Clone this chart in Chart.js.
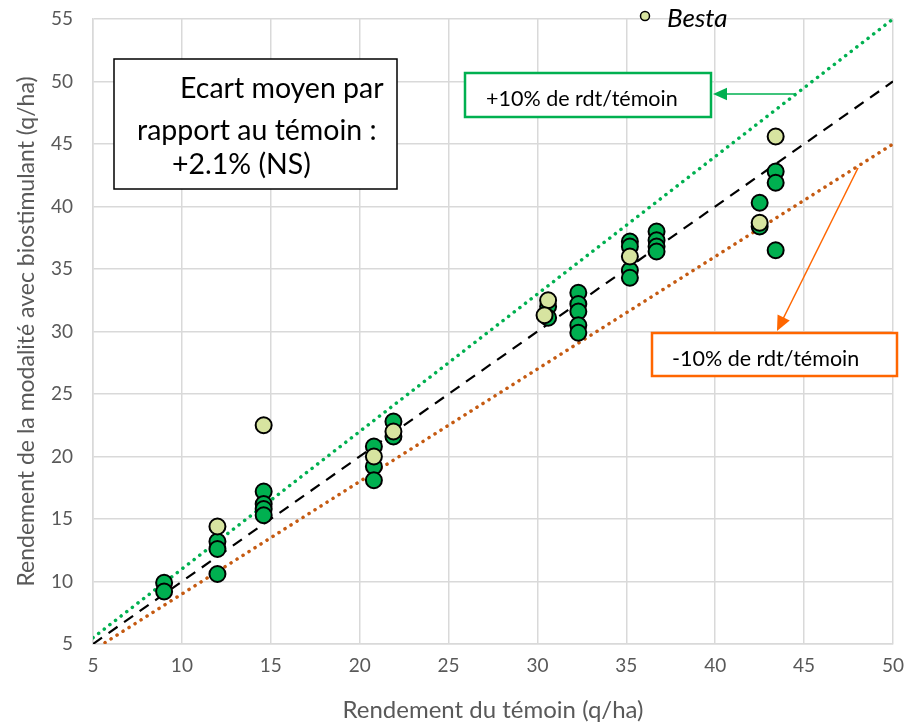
<!DOCTYPE html>
<html>
<head>
<meta charset="utf-8">
<script src="https://cdn.jsdelivr.net/npm/chart.js@4.4.1/dist/chart.umd.min.js"></script>
<style>
  html, body { margin: 0; padding: 0; background: #fff; }
  #wrap { width: 906px; height: 725px; }
</style>
</head>
<body>
<div id="wrap"><canvas id="rdtChart" width="906" height="725"></canvas></div>
<script>
// yields (q/ha): témoin on x, biostimulant on y
const autresX = [9.0, 9.0, 12.0, 12.0, 12.0, 14.6, 14.6, 14.6, 14.6, 20.8, 20.8, 20.8, 21.9, 21.9,
  30.6, 30.6, 32.3, 32.3, 32.3, 32.3, 32.3, 35.2, 35.2, 35.2, 35.2, 36.7, 36.7, 36.7, 36.7,
  42.5, 42.5, 43.4, 43.4, 43.4];
const autresY = [9.9, 9.2, 13.2, 12.6, 10.6, 17.2, 16.2, 15.8, 15.3, 20.8, 19.2, 18.1, 22.8, 21.6,
  32.0, 31.1, 33.1, 32.2, 31.6, 30.5, 29.9, 37.2, 36.8, 34.9, 34.3, 38.0, 37.3, 36.8, 36.4,
  40.3, 38.4, 42.8, 41.9, 36.5];

const bestaX = [12.0, 14.6, 20.8, 21.9, 30.6, 30.4, 35.2, 42.5, 43.4];
const bestaY = [14.4, 22.5, 20.0, 22.0, 32.5, 31.3, 36.0, 38.7, 45.6];

// reference lines (endpoints)
const refX = [5, 50];
const plus10Y = [5.5, 55];
const egalY = [5, 50];
const moins10Y = [4.5, 45];

const xTicks = [5, 10, 15, 20, 25, 30, 35, 40, 45, 50];
const yTicks = [5, 10, 15, 20, 25, 30, 35, 40, 45, 50, 55];

const FONT = 'Lato, "Open Sans", sans-serif';
const GREY = '#595959';
const GRID = '#D9D9D9';

function toPoints(xs, ys) {
  return xs.map((x, i) => ({ x: x, y: ys[i] }));
}

// let the layout padding alone decide where the plot area sits
function noScalePadding(scale) {
  scale.paddingTop = 0;
  scale.paddingBottom = 0;
  scale.paddingLeft = 0;
  scale.paddingRight = 0;
}

function arrow(ctx, x1, y1, x2, y2, color, head) {
  const ang = Math.atan2(y2 - y1, x2 - x1);
  ctx.strokeStyle = color;
  ctx.fillStyle = color;
  ctx.lineWidth = 1.5;
  ctx.beginPath();
  ctx.moveTo(x1, y1);
  ctx.lineTo(x2 - Math.cos(ang) * head * 0.8, y2 - Math.sin(ang) * head * 0.8);
  ctx.stroke();
  ctx.beginPath();
  ctx.moveTo(x2, y2);
  ctx.lineTo(x2 - head * Math.cos(ang) + (head / 2.2) * Math.sin(ang), y2 - head * Math.sin(ang) - (head / 2.2) * Math.cos(ang));
  ctx.lineTo(x2 - head * Math.cos(ang) - (head / 2.2) * Math.sin(ang), y2 - head * Math.sin(ang) + (head / 2.2) * Math.cos(ang));
  ctx.closePath();
  ctx.fill();
}

// text boxes, arrows and the one-entry legend
const annotations = {
  id: 'annotations',
  afterDraw(chart) {
    const ctx = chart.ctx;
    ctx.save();

    // Ecart moyen box
    ctx.fillStyle = '#fff';
    ctx.fillRect(114, 59, 283, 130);
    ctx.strokeStyle = '#000';
    ctx.lineWidth = 1.5;
    ctx.strokeRect(114, 59, 283, 130);
    ctx.fillStyle = '#000';
    ctx.font = '28.5px ' + FONT;
    ctx.textBaseline = 'alphabetic';
    ctx.textAlign = 'left';
    ctx.fillText('Ecart moyen par', 180, 98);
    ctx.fillText('rapport au témoin :', 137, 140);
    ctx.fillText('+2.1% (NS)', 172, 174);

    // +10% box
    ctx.fillStyle = '#fff';
    ctx.fillRect(465, 73, 246, 44);
    ctx.strokeStyle = '#00B050';
    ctx.lineWidth = 2.5;
    ctx.strokeRect(465, 73, 246, 44);
    ctx.fillStyle = '#000';
    ctx.font = '21.5px ' + FONT;
    ctx.fillText('+10% de rdt/témoin', 486, 106);
    arrow(ctx, 795, 94, 713, 94, '#00B050', 14);

    // -10% box
    ctx.fillStyle = '#fff';
    ctx.fillRect(652, 333, 245, 43);
    ctx.strokeStyle = '#FF6600';
    ctx.lineWidth = 2.5;
    ctx.strokeRect(652, 333, 245, 43);
    ctx.fillStyle = '#000';
    ctx.fillText('-10% de rdt/témoin', 672, 366);
    arrow(ctx, 858, 168, 777, 331, '#FF6600', 15);

    // legend
    ctx.beginPath();
    ctx.arc(645, 16, 4.5, 0, Math.PI * 2);
    ctx.fillStyle = '#D7E4A0';
    ctx.fill();
    ctx.strokeStyle = '#000';
    ctx.lineWidth = 1.5;
    ctx.stroke();
    ctx.fillStyle = '#000';
    ctx.font = 'italic 26px ' + FONT;
    ctx.fillText('Besta', 667, 27);

    ctx.restore();
  },
};

new Chart(document.getElementById('rdtChart'), {
  type: 'scatter',
  data: {
    datasets: [
      {
        label: 'Besta',
        data: toPoints(bestaX, bestaY),
        backgroundColor: '#D7E4A0',
        borderColor: '#000',
        borderWidth: 2,
        pointRadius: 8,
        order: 0,
      },
      {
        label: 'Autres',
        data: toPoints(autresX, autresY),
        backgroundColor: '#00B050',
        borderColor: '#000',
        borderWidth: 2,
        pointRadius: 8,
        order: 1,
      },
      {
        label: '+10%',
        type: 'line',
        data: toPoints(refX, plus10Y),
        borderColor: '#00B050',
        borderWidth: 3.5,
        borderDash: [0.1, 7],
        borderCapStyle: 'round',
        pointRadius: 0,
        order: 3,
      },
      {
        label: 'y=x',
        type: 'line',
        data: toPoints(refX, egalY),
        borderColor: '#000',
        borderWidth: 2.2,
        borderDash: [11, 8],
        pointRadius: 0,
        order: 3,
      },
      {
        label: '-10%',
        type: 'line',
        data: toPoints(refX, moins10Y),
        borderColor: '#C55A11',
        borderWidth: 3.5,
        borderDash: [0.1, 7],
        borderCapStyle: 'round',
        pointRadius: 0,
        order: 3,
      },
    ],
  },
  options: {
    responsive: false,
    animation: false,
    layout: { padding: { top: 19, right: 13, left: 0, bottom: 0 } },
    plugins: {
      legend: { display: false },
      tooltip: { enabled: false },
    },
    scales: {
      x: {
        type: 'linear',
        min: 5,
        max: 50,
        afterBuildTicks: (scale) => { scale.ticks = xTicks.map((v) => ({ value: v })); },
        afterFit: (scale) => { scale.height = 81; noScalePadding(scale); },
        grid: { color: GRID, lineWidth: 1.5, drawTicks: false },
        border: { color: GRID, width: 1.5 },
        ticks: { color: GREY, padding: 10, font: { family: FONT, size: 19 } },
        title: {
          display: true,
          text: 'Rendement du témoin (q/ha)',
          color: GREY,
          font: { family: FONT, size: 24 },
          padding: { top: 0, bottom: 0 },
        },
      },
      y: {
        type: 'linear',
        min: 5,
        max: 55,
        afterBuildTicks: (scale) => { scale.ticks = yTicks.map((v) => ({ value: v })); },
        afterFit: (scale) => { scale.width = 93; noScalePadding(scale); },
        grid: { color: GRID, lineWidth: 1.5, drawTicks: false },
        border: { color: GRID, width: 1.5 },
        ticks: { color: GREY, padding: 20, font: { family: FONT, size: 19 } },
        title: {
          display: true,
          text: 'Rendement de la modalité avec biostimulant (q/ha)',
          color: GREY,
          font: { family: FONT, size: 23 },
          padding: { top: 13, bottom: 0 },
        },
      },
    },
  },
  plugins: [annotations],
});
</script>
</body>
</html>
